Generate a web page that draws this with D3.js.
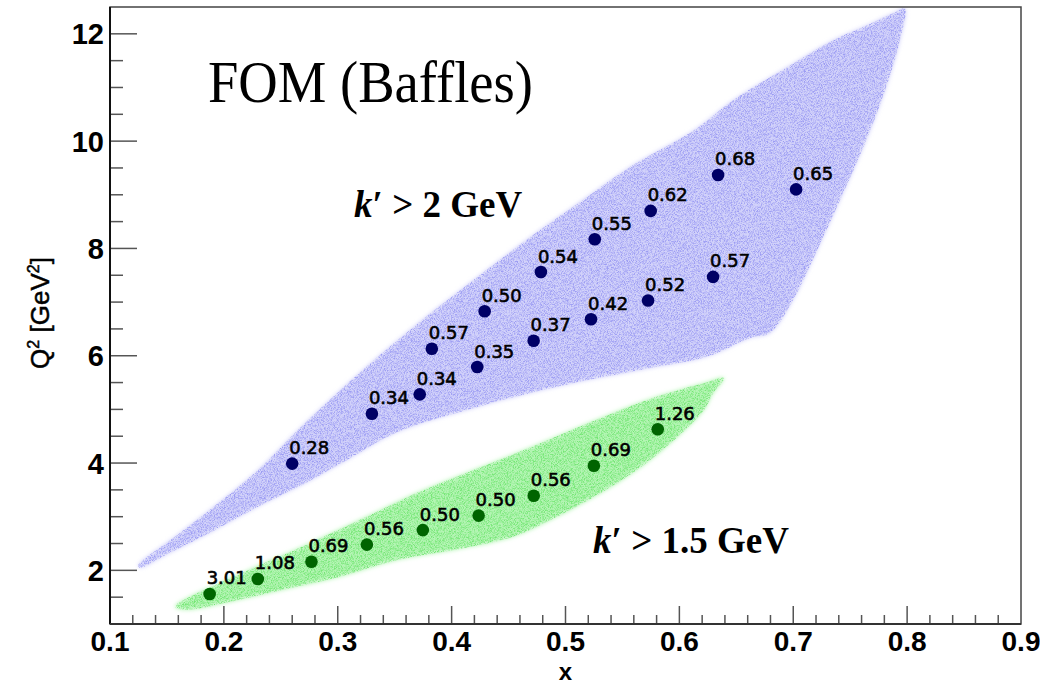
<!DOCTYPE html>
<html>
<head>
<meta charset="utf-8">
<script src="https://cdn.jsdelivr.net/npm/d3@7"></script>
<style>
  html, body { margin: 0; padding: 0; background: #fff; }
  svg { display: block; }
</style>
</head>
<body>
<svg id="chart" width="1040" height="686"></svg>
<script>
// ---------- data ----------
// k' > 2 GeV kinematic bins: x, Q2, FOM label
const blueX   = [0.260, 0.330, 0.372, 0.3826, 0.4225, 0.429, 0.472, 0.4784, 0.5224, 0.5257, 0.5725, 0.5748, 0.6296, 0.634, 0.7025];
const blueQ2  = [3.99, 4.92, 5.28, 6.13, 5.79, 6.83, 6.28, 7.56, 6.68, 8.17, 7.03, 8.70, 7.47, 9.37, 9.10];
const blueFOM = ["0.28", "0.34", "0.34", "0.57", "0.35", "0.50", "0.37", "0.54", "0.42", "0.55", "0.52", "0.62", "0.57", "0.68", "0.65"];

// k' > 1.5 GeV kinematic bins
const greenX   = [0.1875, 0.2298, 0.2769, 0.3256, 0.3747, 0.4237, 0.4721, 0.5249, 0.581];
const greenQ2  = [1.56, 1.84, 2.16, 2.48, 2.75, 3.02, 3.39, 3.95, 4.63];
const greenFOM = ["3.01", "1.08", "0.69", "0.56", "0.50", "0.50", "0.56", "0.69", "1.26"];

// acceptance region outlines (x, Q2) read from the event clouds
const blueRegionX  = [0.1246, 0.157, 0.1878, 0.2282, 0.2668, 0.3239, 0.374, 0.4249, 0.4715, 0.5189, 0.5593, 0.6128, 0.6471, 0.6945, 0.7349, 0.7648, 0.7876, 0.7981,
                      0.7937, 0.785, 0.7744, 0.7604, 0.7411, 0.7191, 0.6998, 0.6796,
                      0.662, 0.626, 0.5654, 0.4952, 0.4197, 0.3529, 0.3055, 0.2756, 0.2282, 0.1843, 0.1509, 0.1263];
const blueRegionQ2 = [2.086, 2.626, 3.128, 3.836, 4.655, 5.773, 6.667, 7.505, 8.25, 8.957, 9.553, 10.205, 10.763, 11.378, 11.881, 12.16, 12.384, 12.477,
                      11.881, 11.229, 10.577, 9.832, 8.901, 7.877, 7.039, 6.425,
                      6.331, 5.996, 5.736, 5.438, 5.028, 4.581, 4.022, 3.669, 3.166, 2.663, 2.309, 2.048];
const greenRegionX  = [0.1571, 0.2186, 0.2686, 0.3195, 0.3696, 0.4197, 0.4706, 0.5206, 0.5716, 0.6216, 0.6392,
                       0.6287, 0.6216, 0.5883, 0.554, 0.5206, 0.4873, 0.4539, 0.403, 0.3529, 0.302, 0.2519, 0.2019, 0.1676];
const greenRegionQ2 = [1.322, 1.974, 2.44, 2.942, 3.445, 3.873, 4.302, 4.749, 5.177, 5.493, 5.587,
                       5.27, 4.99, 4.30, 3.743, 3.315, 2.942, 2.626, 2.384, 2.197, 1.881, 1.639, 1.397, 1.266];

const xMajorTicks = [0.1, 0.2, 0.3, 0.4, 0.5, 0.6, 0.7, 0.8, 0.9];
const xTickLabels = ["0.1", "0.2", "0.3", "0.4", "0.5", "0.6", "0.7", "0.8", "0.9"];
const yMajorTicks = [2, 4, 6, 8, 10, 12];
const yTickLabels = ["2", "4", "6", "8", "10", "12"];

// ---------- layout ----------
const L = 110, R = 1021, T = 7, B = 624;
const svg = d3.select("#chart");
const x = d3.scaleLinear().domain([0.1, 0.9]).range([L, R]);
const y = d3.scaleLinear().domain([1.0, 12.5]).range([B, T]);

const defs = svg.append("defs");
defs.append("clipPath").attr("id", "plotclip")
  .append("rect").attr("x", L).attr("y", T).attr("width", R - L).attr("height", B - T);
const f = defs.append("filter").attr("id", "speck").attr("x", 0).attr("y", 0).attr("width", 1).attr("height", 1);
f.append("feTurbulence").attr("type", "fractalNoise").attr("baseFrequency", 1.3).attr("numOctaves", 1).attr("seed", 3).attr("result", "n");
f.append("feColorMatrix").attr("in", "n").attr("type", "matrix")
  .attr("values", "0 0 0 0 0  0 0 0 0 0  0 0 0 0 0  3.0 0 0 0 -1.2").attr("result", "a");
f.append("feComposite").attr("in", "SourceGraphic").attr("in2", "a").attr("operator", "in");
const soft = defs.append("filter").attr("id", "soft");
soft.append("feGaussianBlur").attr("stdDeviation", 2);

const plot = svg.append("g").attr("clip-path", "url(#plotclip)");

function region(xs, qs) { return xs.map((v, i) => [x(v), y(qs[i])]); }
const line = d3.line().curve(d3.curveCatmullRomClosed.alpha(0.5));

const regions = [
  { pts: region(blueRegionX, blueRegionQ2), base: "#d2d2fa", dot: "#9c9cf3" },
  { pts: region(greenRegionX, greenRegionQ2), base: "#b4f5b4", dot: "#74e674" }
];
regions.forEach(r => {
  plot.append("path").attr("d", line(r.pts)).attr("fill", r.base).attr("filter", "url(#soft)");
  plot.append("path").attr("d", line(r.pts)).attr("fill", r.dot).attr("filter", "url(#speck)");
});

// ---------- axes ----------
const axisCol = "#555";
const xMinor = d3.range(0.12, 0.899, 0.02).filter(v => Math.abs(v * 10 - Math.round(v * 10)) > 1e-6);
const yMinor = d3.range(1.5, 12.5, 0.5).filter(v => Math.abs(v / 2 - Math.round(v / 2)) > 1e-6);

const tg = svg.append("g").attr("stroke", axisCol).attr("stroke-width", 1.5);
xMajorTicks.slice(1, -1).forEach(v => tg.append("line").attr("x1", x(v)).attr("x2", x(v)).attr("y1", B).attr("y2", B - 18));
xMinor.forEach(v => tg.append("line").attr("x1", x(v)).attr("x2", x(v)).attr("y1", B).attr("y2", B - 9));
yMajorTicks.forEach(v => tg.append("line").attr("x1", L).attr("x2", L + 27).attr("y1", y(v)).attr("y2", y(v)));
yMinor.forEach(v => tg.append("line").attr("x1", L).attr("x2", L + 13).attr("y1", y(v)).attr("y2", y(v)));

// frame
svg.append("rect").attr("x", L).attr("y", T).attr("width", R - L).attr("height", B - T)
  .attr("fill", "none").attr("stroke", "#444").attr("stroke-width", 1.5);
svg.append("line").attr("x1", L).attr("x2", L).attr("y1", T).attr("y2", B).attr("stroke", "#111").attr("stroke-width", 2);
svg.append("line").attr("x1", L).attr("x2", R).attr("y1", B).attr("y2", B).attr("stroke", "#333").attr("stroke-width", 2);

// tick labels
const tickFont = "'Liberation Sans', Arial, sans-serif";
svg.append("g").selectAll("text").data(xMajorTicks).join("text")
  .attr("x", d => x(d)).attr("y", 651)
  .attr("text-anchor", "middle").attr("font-family", tickFont).attr("font-weight", "bold")
  .attr("font-size", 28).attr("fill", "#000")
  .text((d, i) => xTickLabels[i]);
svg.append("g").selectAll("text").data(yMajorTicks).join("text")
  .attr("x", 104).attr("y", d => y(d) + 10.5)
  .attr("text-anchor", "end").attr("font-family", tickFont).attr("font-weight", "bold")
  .attr("font-size", 29).attr("fill", "#000")
  .text((d, i) => yTickLabels[i]);

// axis titles
svg.append("text").attr("x", x(0.5)).attr("y", 680).attr("text-anchor", "middle")
  .attr("font-family", tickFont).attr("font-weight", "bold").attr("font-size", 24).text("x");
const yt = svg.append("text").attr("transform", "translate(49,313) rotate(-90)").attr("text-anchor", "middle")
  .attr("font-family", tickFont).attr("font-size", 26).attr("fill", "#000")
  .attr("stroke", "#000").attr("stroke-width", 0.5);
yt.append("tspan").text("Q");
yt.append("tspan").attr("font-size", 16).attr("dy", -10).text("2");
yt.append("tspan").attr("dy", 10).text(" [GeV");
yt.append("tspan").attr("font-size", 16).attr("dy", -10).text("2");
yt.append("tspan").attr("dy", 10).text("]");

// ---------- markers ----------
const series = [
  { xs: blueX, qs: blueQ2, lab: blueFOM, col: "#000066" },
  { xs: greenX, qs: greenQ2, lab: greenFOM, col: "#006400" }
];
series.forEach(s => {
  const g = svg.append("g");
  g.selectAll("circle").data(s.xs).join("circle")
    .attr("cx", d => x(d)).attr("cy", (d, i) => y(s.qs[i])).attr("r", 6.3).attr("fill", s.col);
  g.selectAll("text").data(s.xs).join("text")
    .attr("x", d => x(d) - 3).attr("y", (d, i) => y(s.qs[i]) - 9.5)
    .attr("font-family", "'DejaVu Sans', sans-serif").attr("font-size", 18).attr("fill", "#000")
    .attr("stroke", "#000").attr("stroke-width", 0.6)
    .text((d, i) => s.lab[i]);
});

// ---------- annotations ----------
svg.append("text").attr("x", 208).attr("y", 102).attr("font-family", "'Liberation Serif', 'Times New Roman', serif")
  .attr("font-size", 60).attr("textLength", 325).attr("lengthAdjust", "spacingAndGlyphs").attr("fill", "#000")
  .text("FOM (Baffles)");

function kLabel(px, py, txt) {
  const t = svg.append("text").attr("x", px).attr("y", py)
    .attr("font-family", "'Liberation Serif', 'Times New Roman', serif").attr("font-size", 37)
    .attr("font-weight", "bold").attr("fill", "#000");
  t.append("tspan").attr("font-style", "italic").text("k");
  t.append("tspan").text("\u2032 > " + txt);
}
kLabel(354, 217, "2 GeV");
kLabel(593, 553, "1.5 GeV");
</script>
</body>
</html>
